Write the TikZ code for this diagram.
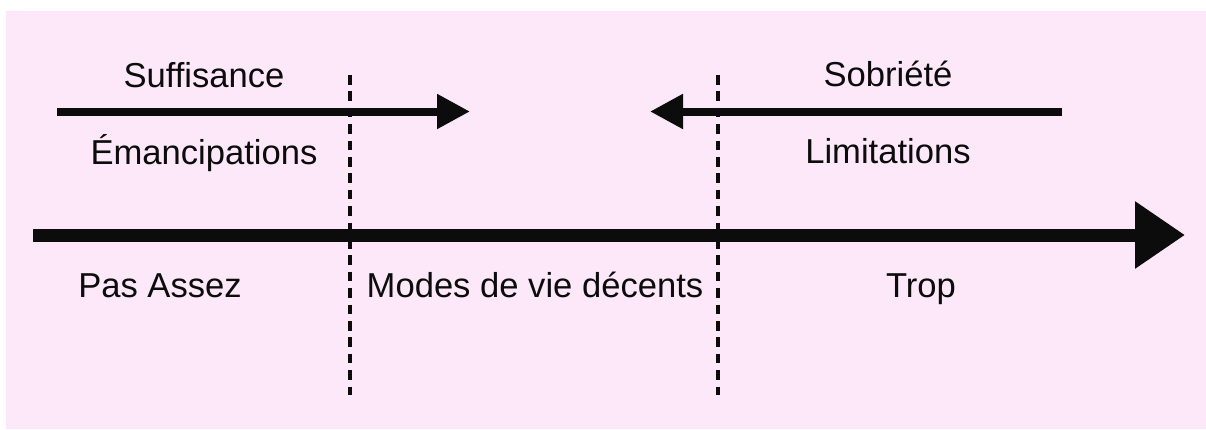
\documentclass[tikz,border=0pt]{standalone}
\usepackage{fontspec}
\setmainfont{Liberation Sans}
\usetikzlibrary{arrows.meta}
\definecolor{bgpink}{RGB}{252,232,249}
\definecolor{ink}{RGB}{12,12,12}
\tikzset{
  lbl/.style={anchor=base, inner sep=0pt, font=\fontsize{17.3}{20}\selectfont, text=ink},
  toparrow/.style={draw=ink, line width=4pt, -{Triangle[length=16.5pt,width=16.5pt]}},
  mainarrow/.style={draw=ink, line width=6.5pt, -{Triangle[length=25pt,width=32pt]}},
  divider/.style={draw=ink, line width=2.4pt, dash pattern=on 4.8pt off 3.4pt}
}
\begin{document}
\begin{tikzpicture}[x=0.5pt,y=-0.5pt]
\useasboundingbox (0,0) rectangle (1206,429);
\fill[bgpink] (6,11) rectangle (1206,429);
% dividers
\coordinate (d1t) at (350,75);
\coordinate (d1b) at (350,395);
\coordinate (d2t) at (718,75);
\coordinate (d2b) at (718,395);
\draw[divider] (d1t) -- (d1b);
\draw[divider] (d2t) -- (d2b);
% top arrows
\coordinate (la) at (57,111.5);
\coordinate (lb) at (470,111.5);
\coordinate (ra) at (1062,111.5);
\coordinate (rb) at (650,111.5);
\draw[toparrow] (la) -- (lb);
\draw[toparrow] (ra) -- (rb);
% main axis
\coordinate (ma) at (33,235);
\coordinate (mb) at (1185,235);
\draw[mainarrow] (ma) -- (mb);
% labels
\node[lbl] (suff) at (204,87) {Suffisance};
\node[lbl] (eman) at (204,164) {Émancipations};
\node[lbl] (sobr) at (888,86) {Sobriété};
\node[lbl] (limi) at (888,163) {Limitations};
\node[lbl] (pas) at (160,297) {Pas Assez};
\node[lbl] (modes) at (535,297) {Modes de vie décents};
\node[lbl] (trop) at (921,297) {Trop};
\end{tikzpicture}
\end{document}
